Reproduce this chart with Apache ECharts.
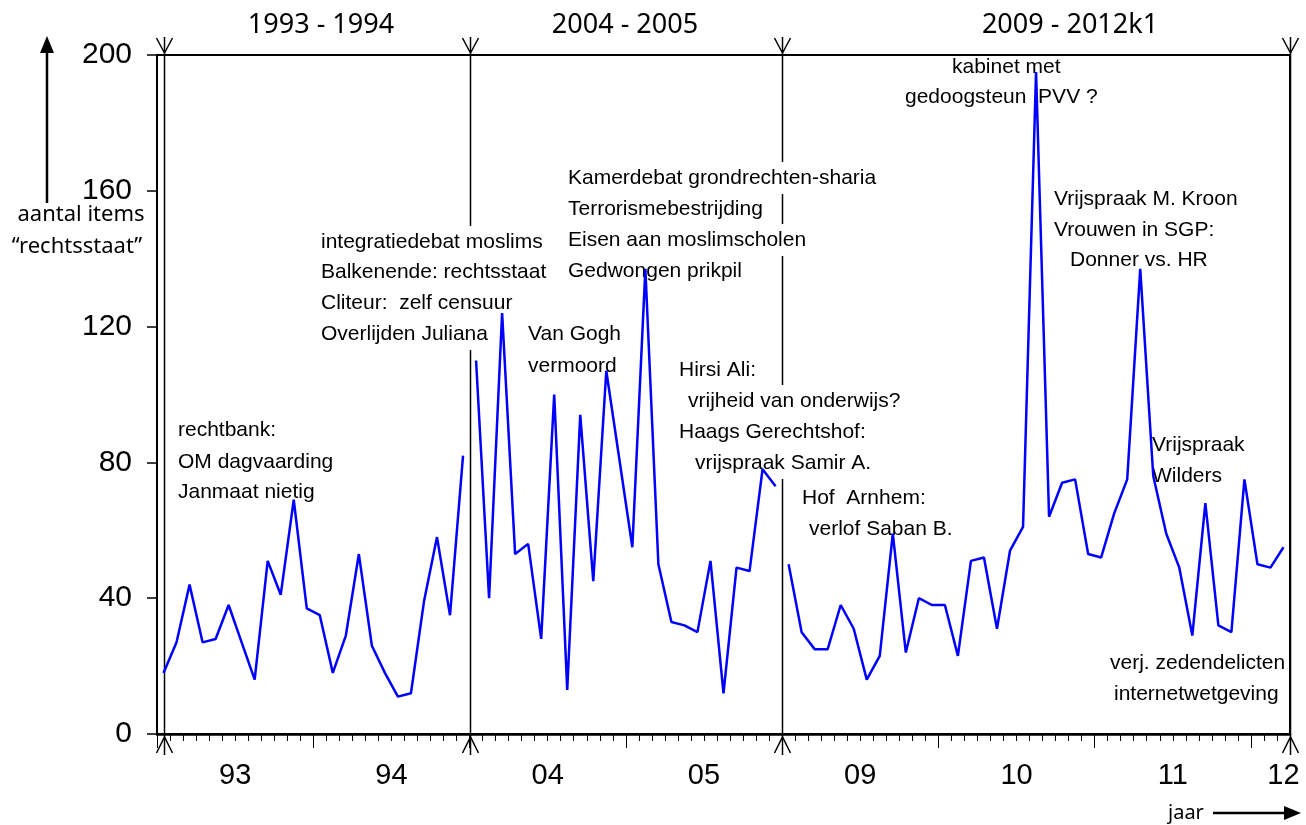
<!DOCTYPE html>
<html>
<head>
<meta charset="utf-8">
<script src="https://cdn.jsdelivr.net/npm/echarts@6/dist/echarts.min.js"></script>
<style>
html, body { margin: 0; padding: 0; background: #fff; }
#main { width: 1306px; height: 825px; }
</style>
</head>
<body>
<div id="main"></div>
<script>
// monthly counts of news items on "rechtsstaat", three periods
var seg1 = [18, 27, 44, 27, 28, 38, 27, 16, 51, 41, 69, 37, 35, 18, 29, 53, 26, 18, 11, 12, 39, 58, 35, 82];
var seg2 = [110, 40, 124, 53, 56, 28, 100, 13, 94, 45, 107, 81, 55, 137, 50, 33, 32, 30, 51, 12, 49, 48, 78, 73];
var seg3 = [50, 30, 25, 25, 38, 31, 16, 23, 59, 24, 40, 38, 38, 23, 51, 52, 31, 54, 61, 195,
            64, 74, 75, 53, 52, 65, 75, 137, 76, 59, 49, 29, 68, 32, 30, 75, 50, 49, 55];
var segStart = [0, 24, 48];
var yearLabels = ['93', '94', '04', '05', '09', '10', '11', '12'];
var yearPos = [6, 18, 30, 42, 54, 66, 78, 86.5];
var bounds = [0.5, 24, 48, 87];
var periods = ['1993 - 1994', '2004 - 2005', '2009 - 2012k1'];

// annotations: text, left x, middle y
var notes = [
  ['rechtbank:', 178, 430], ['OM dagvaarding', 178, 462], ['Janmaat nietig', 178, 492],
  ['integratiedebat moslims', 321, 242], ['Balkenende: rechtsstaat', 321, 272],
  ['Cliteur:  zelf censuur', 321, 303], ['Overlijden Juliana', 321, 334],
  ['Van Gogh', 528, 334], ['vermoord', 528, 366],
  ['Kamerdebat grondrechten-sharia', 568, 178], ['Terrorismebestrijding', 568, 209],
  ['Eisen aan moslimscholen', 568, 240], ['Gedwongen prikpil', 568, 271],
  ['Hirsi Ali:', 679, 370], ['vrijheid van onderwijs?', 688, 401],
  ['Haags Gerechtshof:', 679, 432], ['vrijspraak Samir A.', 695, 463],
  ['Hof  Arnhem:', 802, 498], ['verlof Saban B.', 809, 529],
  ['kabinet met', 952, 67], ['gedoogsteun  PVV ?', 905, 97],
  ['Vrijspraak M. Kroon', 1054, 199], ['Vrouwen in SGP:', 1054, 230], ['Donner vs. HR', 1070, 260],
  ['Vrijspraak', 1152, 445], ['Wilders', 1152, 476],
  ['verj. zedendelicten', 1110, 663], ['internetwetgeving', 1114, 694]
];

function pts(vals, start) {
  return vals.map(function (v, i) { return [start + i + 0.5, v]; });
}

function lineSeries(d) {
  return {
    type: 'line', data: d, symbol: 'none', z: 10, clip: false,
    lineStyle: { color: '#0000ff', width: 2.5 }
  };
}

var chart = echarts.init(document.getElementById('main'));
var option = {
  animation: false,
  grid: { left: 157, right: 16, top: 55, bottom: 91, show: true, borderColor: '#000', borderWidth: 2 },
  xAxis: [
    {
      type: 'value', position: 'bottom', min: 0, max: 87, interval: 1,
      axisLine: { show: true, lineStyle: { color: '#000', width: 2.5 } },
      axisTick: { show: true, length: 7, lineStyle: { color: '#000', width: 1 } },
      axisLabel: { show: false }, splitLine: { show: false }
    },
    {
      type: 'value', position: 'bottom', min: 0, max: 87, interval: 12,
      axisLine: { show: false },
      axisTick: { show: true, length: 14, lineStyle: { color: '#000', width: 1 } },
      axisLabel: { show: false }, splitLine: { show: false }
    },
    {
      type: 'value', position: 'bottom', min: 0, max: 87, interval: 0.5,
      axisLine: { show: false }, axisTick: { show: false }, splitLine: { show: false },
      axisLabel: {
        margin: 27, color: '#000', fontSize: 29, fontFamily: 'Liberation Sans',
        formatter: function (v) {
          var k = yearPos.indexOf(v);
          return k < 0 ? '' : yearLabels[k];
        }
      }
    }
  ],
  yAxis: {
    type: 'value', min: 0, max: 200, interval: 40,
    axisLine: { show: true, lineStyle: { color: '#000', width: 2 } },
    axisTick: { show: true, length: 10, lineStyle: { color: '#000', width: 1.5 } },
    axisLabel: { color: '#000', fontSize: 30, fontFamily: 'Liberation Sans', margin: 25 },
    splitLine: { show: false }
  },
  series: [lineSeries(pts(seg1, segStart[0])), lineSeries(pts(seg2, segStart[1])), lineSeries(pts(seg3, segStart[2]))]
};
chart.setOption(option);

var g = [];
var yTop = chart.convertToPixel({ yAxisIndex: 0 }, 200);
var yBot = chart.convertToPixel({ yAxisIndex: 0 }, 0);
var xLeft = chart.convertToPixel({ xAxisIndex: 0 }, 0);
var xRight = chart.convertToPixel({ xAxisIndex: 0 }, 87);
bounds.forEach(function (b) {
  var x = Math.round(chart.convertToPixel({ xAxisIndex: 0 }, b)) + 0.5;
  g.push({ type: 'line', z: 1, shape: { x1: x, y1: yTop, x2: x, y2: yBot }, style: { stroke: '#000', lineWidth: 1.5 } });
  // top down-arrow
  g.push({ type: 'line', z: 1, shape: { x1: x, y1: yTop - 18, x2: x, y2: yTop }, style: { stroke: '#000', lineWidth: 1.5 } });
  g.push({ type: 'polyline', z: 1, shape: { points: [[x - 8, yTop - 17], [x, yTop - 2], [x + 8, yTop - 17]] }, style: { stroke: '#000', lineWidth: 1.5, fill: null } });
  // bottom up-arrow
  g.push({ type: 'line', z: 1, shape: { x1: x, y1: yBot, x2: x, y2: yBot + 21 }, style: { stroke: '#000', lineWidth: 1.5 } });
  g.push({ type: 'polyline', z: 1, shape: { points: [[x - 8, yBot + 19], [x, yBot + 3], [x + 8, yBot + 19]] }, style: { stroke: '#000', lineWidth: 1.5, fill: null } });
});

notes.forEach(function (n) {
  g.push({
    type: 'text', z: 3, x: n[1] - 2, y: n[2],
    style: {
      text: n[0], font: '21px "Liberation Sans"', fill: '#000',
      backgroundColor: '#fff', padding: [5, 2, 6, 2], verticalAlign: 'middle'
    }
  });
});

// keep the top frame line above the white text boxes
g.push({ type: 'line', z: 4, shape: { x1: xLeft, y1: yTop, x2: xRight, y2: yTop }, style: { stroke: '#000', lineWidth: 2 } });

var periodX = [321, 625, 1070];
periods.forEach(function (p, i) {
  g.push({ type: 'text', z: 3, x: periodX[i], y: 25,
    style: { text: p, font: '27px "Noto Sans"', fill: '#000', align: 'center', verticalAlign: 'middle' } });
});

// y-axis title with arrow
g.push({ type: 'line', z: 3, shape: { x1: 47, y1: 203, x2: 47, y2: 48 }, style: { stroke: '#000', lineWidth: 2.5 } });
g.push({ type: 'polygon', z: 3, shape: { points: [[40, 53], [47, 36], [54, 53]] }, style: { fill: '#000' } });
g.push({ type: 'text', z: 3, x: 81, y: 215,
  style: { text: 'aantal items', font: '22px "Noto Sans"', fill: '#000', align: 'center', verticalAlign: 'middle' } });
g.push({ type: 'text', z: 3, x: 77, y: 247,
  style: { text: '\u201crechtsstaat\u201d', font: '22px "Noto Sans"', fill: '#000', align: 'center', verticalAlign: 'middle' } });

// x-axis title with arrow
g.push({ type: 'text', z: 3, x: 1168, y: 813,
  style: { text: 'jaar', font: '20px "Noto Sans"', fill: '#000', verticalAlign: 'middle' } });
g.push({ type: 'line', z: 3, shape: { x1: 1213, y1: 813, x2: 1288, y2: 813 }, style: { stroke: '#000', lineWidth: 2.5 } });
g.push({ type: 'polygon', z: 3, shape: { points: [[1284, 806], [1301, 813], [1284, 820]] }, style: { fill: '#000' } });

chart.setOption({ graphic: { elements: g } });
</script>
</body>
</html>
